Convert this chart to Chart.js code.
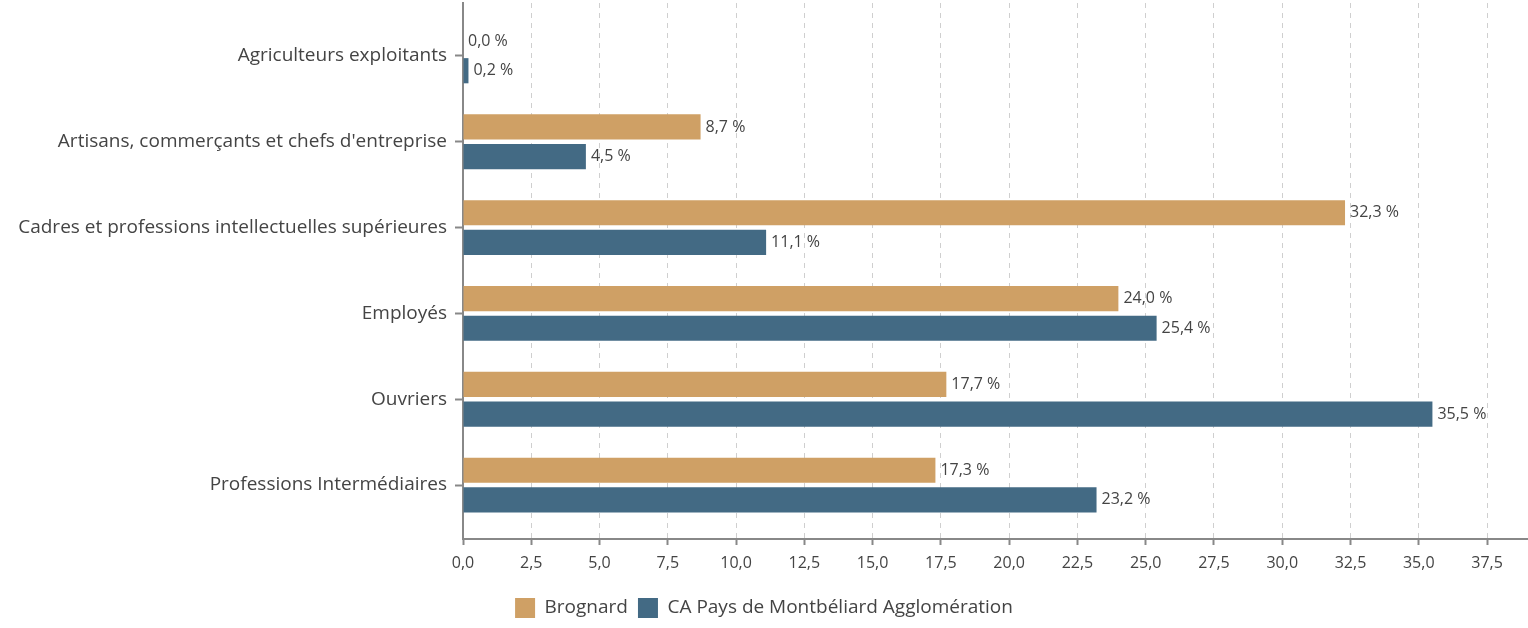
<!DOCTYPE html>
<html lang="fr">
<head>
<meta charset="utf-8">
<title>Catégories socioprofessionnelles</title>
<script src="https://cdn.jsdelivr.net/npm/chart.js@4/dist/chart.umd.min.js"></script>
<style>
    html, body { margin: 0; padding: 0; background: #fff; }
    #wrap { position: relative; width: 1528px; height: 628px; }
</style>
</head>
<body>
<div id="wrap"><canvas id="csp"></canvas></div>
<script>
// Données
const categories = [
    'Agriculteurs exploitants',
    'Artisans, commerçants et chefs d\'entreprise',
    'Cadres et professions intellectuelles supérieures',
    'Employés',
    'Ouvriers',
    'Professions Intermédiaires'
];
const seriesNames = ['Brognard', 'CA Pays de Montbéliard Agglomération'];
const brognard = [0.0, 8.7, 32.3, 24.0, 17.7, 17.3];
const caPma = [0.2, 4.5, 11.1, 25.4, 35.5, 23.2];
const xTicksMax = 39;
const xTickStep = 2.5;

const texte = '#444';
const police = '"Open Sans", Lato, sans-serif';

function virgule(v) {
    return Number(v).toFixed(1).replace('.', ',');
}

// resserre les catégories à l'intérieur de la zone du graphique
const margeCategories = {
    id: 'margeCategories',
    beforeDatasetsUpdate(chart) {
        const y = chart.scales.y;
        y._startPixel = y.top + 10;
        y._length = (y.bottom - 11) - y._startPixel;
    }
};

// étiquettes "x,x %" au bout des barres
const etiquettes = {
    id: 'etiquettes',
    afterDatasetsDraw(chart) {
        const ctx = chart.ctx;
        ctx.save();
        ctx.font = '16px ' + police;
        ctx.fillStyle = texte;
        ctx.textAlign = 'left';
        ctx.textBaseline = 'middle';
        chart.data.datasets.forEach((ds, i) => {
            chart.getDatasetMeta(i).data.forEach((bar, j) => {
                ctx.fillText(virgule(ds.data[j]) + ' %', bar.x + 5, bar.y);
            });
        });
        ctx.restore();
    }
};

const ctx = document.getElementById('csp').getContext('2d');
new Chart(ctx, {
    type: 'bar',
    data: {
        labels: categories,
        datasets: [{
            label: seriesNames[0],
            data: brognard,
            backgroundColor: '#CFA065'
        }, {
            label: seriesNames[1],
            data: caPma,
            backgroundColor: '#436A84'
        }]
    },
    options: {
        indexAxis: 'y',
        responsive: true,
        maintainAspectRatio: false,
        animation: false,
        categoryPercentage: 0.69,
        barPercentage: 0.85,
        layout: { padding: { top: 3, right: 0, left: 0, bottom: 0 } },
        scales: {
            x: {
                min: 0,
                max: xTicksMax,
                afterFit: scale => { scale.height = 49; },
                ticks: {
                    stepSize: xTickStep,
                    includeBounds: false,
                    padding: 9,
                    color: texte,
                    font: { family: police, size: 16 },
                    callback: value => virgule(value)
                },
                grid: {
                    color: '#cfcfcf',
                    lineWidth: 1,
                    tickLength: 6,
                    tickColor: '#888',
                    tickWidth: 2
                },
                border: { color: '#888', width: 2, dash: [5, 5] }
            },
            y: {
                afterFit: scale => {
                    scale.width = 463;
                    scale.paddingTop = 0;
                    scale.paddingBottom = 0;
                },
                ticks: {
                    padding: 8,
                    color: texte,
                    font: { family: police, size: 19 }
                },
                grid: {
                    offset: false,
                    drawOnChartArea: false,
                    tickLength: 8,
                    tickColor: '#888',
                    tickWidth: 2
                },
                border: { color: '#888', width: 2 }
            }
        },
        plugins: {
            legend: {
                position: 'bottom',
                labels: {
                    boxWidth: 20,
                    boxHeight: 20,
                    padding: 10,
                    color: texte,
                    font: { family: police, size: 19 }
                }
            },
            tooltip: { enabled: false }
        }
    },
    plugins: [margeCategories, etiquettes]
});
</script>
</body>
</html>
